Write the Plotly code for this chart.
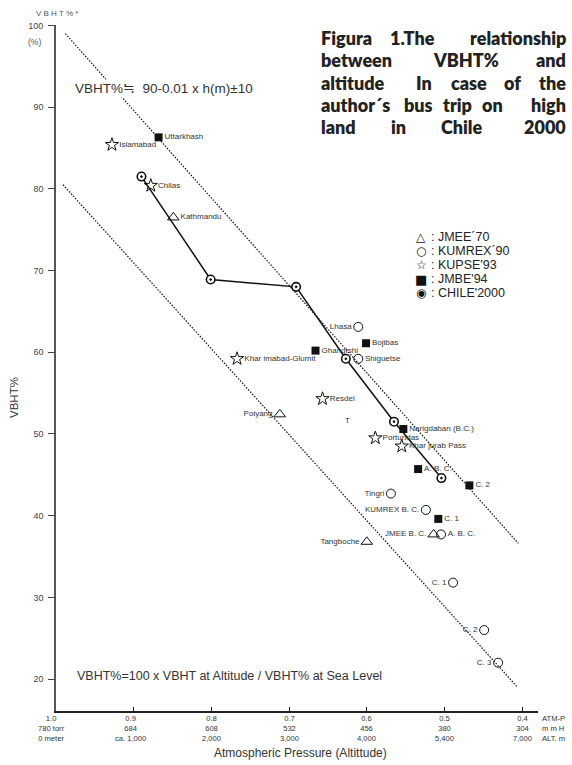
import plotly.graph_objects as go

# ---------------- data ----------------
jmee_x = [0.849, 0.712, 0.514, 0.600]
jmee_y = [76.5, 52.4, 37.7, 36.8]
jmee_lbl = ["Kathmandu", "Poiyang", "JMEE B. C.", "Tangboche"]
jmee_pos = ["middle right", "middle left", "middle left", "middle left"]

kumrex_x = [0.611, 0.611, 0.569, 0.524, 0.5045, 0.489, 0.449, 0.431]
kumrex_y = [63.1, 59.2, 42.7, 40.7, 37.7, 31.8, 26.0, 22.0]
kumrex_lbl = ["Lhasa", "Shiguetse", "Tingri", "KUMREX B. C.", "A. B. C.", "C. 1", "C. 2", "C. 3"]
kumrex_pos = ["middle left", "middle right", "middle left", "middle left",
              "middle right", "middle left", "middle left", "middle left"]

kupse_x = [0.928, 0.878, 0.767, 0.657, 0.589, 0.555]
kupse_y = [85.4, 80.4, 59.2, 54.3, 49.5, 48.5]
kupse_lbl = ["Islamabad", "Chilas", "Khar imabad-Glumit", "Resdel", "Portundas", "Khar jurab Pass"]

jmbe_x = [0.868, 0.666, 0.601, 0.553, 0.534, 0.508, 0.468]
jmbe_y = [86.3, 60.2, 61.1, 50.6, 45.7, 39.6, 43.7]
jmbe_lbl = ["Uttarkhash", "Ghangtshi", "Bojibas", "Narigdaban (B.C.)", "A. B. C.", "C. 1", "C. 2"]

chile_x = [0.890, 0.801, 0.691, 0.627, 0.565, 0.504]
chile_y = [81.5, 68.9, 68.0, 59.2, 51.5, 44.6]

upper_x = [0.988, 0.405]
upper_y = [99.0, 36.6]
lower_x = [0.991, 0.407]
lower_y = [80.5, 19.1]

t_mark_x = [0.625]
t_mark_y = [51.6]

press_ticks = [1.0, 0.9, 0.8, 0.7, 0.6, 0.5, 0.4]
press_lbl = ["1.0", "0.9", "0.8", "0.7", "0.6", "0.5", "0.4"]
torr_lbl = ["780 torr", "684", "608", "532", "456", "380", "304"]
alt_lbl = ["0 meter", "ca. 1,000", "2,000", "3,000", "4,000", "5,400", "7,000"]
unit_lbl = ["ATM-P", "m m H", "ALT. m"]
y_ticks = [20, 30, 40, 50, 60, 70, 80, 90, 100]

legend_glyphs = ["\u25b3", "\u25cb", "\u2606", "\u25a0", "\u25c9"]
legend_names = [": JMEE\u00b470", ": KUMREX\u00b490", ": KUPSE'93", ": JMBE'94", ": CHILE'2000"]

# ---------------- layout helpers ----------------
W, H = 572, 765
PL, PR, PT, PB = 56, 538, 25, 711


def pxx(px):
    return (px - PL) / (PR - PL)


def pxy(py):
    return (PB - py) / (PB - PT)


LBL = dict(family="Liberation Sans, Arial", size=8, color="#333")
DOTS = dict(color="#111", width=1.2, dash="1.5px,1.5px")

fig = go.Figure()

fig.add_trace(go.Scatter(x=upper_x, y=upper_y, mode="lines", line=DOTS,
                         showlegend=False, hoverinfo="skip"))
fig.add_trace(go.Scatter(x=lower_x, y=lower_y, mode="lines", line=DOTS,
                         showlegend=False, hoverinfo="skip"))
fig.add_trace(go.Scatter(x=chile_x, y=chile_y, mode="lines",
                         line=dict(color="#111", width=1.5),
                         showlegend=False, hoverinfo="skip"))

fig.add_trace(go.Scatter(x=jmee_x, y=jmee_y, mode="markers+text", name="JMEE\u00b470",
                         text=jmee_lbl, textposition=jmee_pos, textfont=LBL,
                         marker=dict(symbol="triangle-up-open", size=10, color="#111",
                                     line=dict(width=1))))
fig.add_trace(go.Scatter(x=kumrex_x, y=kumrex_y, mode="markers+text", name="KUMREX\u00b490",
                         text=kumrex_lbl, textposition=kumrex_pos, textfont=LBL,
                         marker=dict(symbol="circle-open", size=9, color="#111",
                                     line=dict(width=1))))
fig.add_trace(go.Scatter(x=kupse_x, y=kupse_y, mode="markers+text", name="KUPSE'93",
                         text=kupse_lbl, textposition="middle right", textfont=LBL,
                         marker=dict(symbol="star-open", size=10, color="#111",
                                     line=dict(width=1))))
fig.add_trace(go.Scatter(x=jmbe_x, y=jmbe_y, mode="markers+text", name="JMBE'94",
                         text=jmbe_lbl, textposition="middle right", textfont=LBL,
                         marker=dict(symbol="square", size=8, color="#111")))
fig.add_trace(go.Scatter(x=chile_x, y=chile_y, mode="markers", name="CHILE'2000",
                         marker=dict(symbol="circle-dot", size=8.5, color="white",
                                     line=dict(width=1.6, color="#111"))))

ann = []
# the stray "T"
ann.append(dict(x=t_mark_x[0], y=t_mark_y[0], xref="x", yref="y", text="T",
                xanchor="center", yanchor="middle", showarrow=False, font=LBL))

# formulas
ann.append(dict(x=pxx(73), y=pxy(88), xref="paper", yref="paper", xanchor="left",
                yanchor="middle", text="VBHT%\u2252  90-0.01 x h(m)\u00b110", showarrow=False,
                bgcolor="white",
                font=dict(family="Liberation Sans, Arial", size=13.5, color="#333")))
ann.append(dict(x=pxx(75), y=pxy(676), xref="paper", yref="paper", xanchor="left",
                yanchor="middle", text="VBHT%=100 x VBHT at Altitude / VBHT% at Sea Level",
                showarrow=False,
                font=dict(family="Liberation Sans, Arial", size=12.5, color="#333")))

# y axis extras
ann.append(dict(x=pxx(57), y=pxy(14), xref="paper", yref="paper", text="V B H T % *",
                xanchor="center", yanchor="middle", showarrow=False,
                font=dict(family="Liberation Sans, Arial", size=8, color="#555")))
ann.append(dict(x=pxx(34), y=pxy(42), xref="paper", yref="paper", text="(%)",
                xanchor="center", yanchor="middle", showarrow=False,
                font=dict(family="Liberation Sans, Arial", size=8.5, color="#555")))
ann.append(dict(x=pxx(14), y=pxy(398), xref="paper", yref="paper", text="VBHT%",
                xanchor="center", yanchor="middle", textangle=-90, showarrow=False,
                font=dict(family="Liberation Sans, Arial", size=11.5, color="#333")))
ann.append(dict(x=pxx(300), y=pxy(753), xref="paper", yref="paper",
                xanchor="center", yanchor="middle",
                text="Atmospheric Pressure (Altittude)", showarrow=False,
                font=dict(family="Liberation Sans, Arial", size=12, color="#333")))

# x tick label blocks (3 rows each)
TK = dict(family="Liberation Sans, Arial", size=7.6, color="#333")
shifts = [-5, -3, 0, 0, 0, 0, 0]
for i, p in enumerate(press_ticks):
    ann.append(dict(x=p, y=pxy(713), xref="x", yref="paper",
                    text="<br>".join([press_lbl[i], torr_lbl[i], alt_lbl[i]]),
                    showarrow=False, xshift=shifts[i], font=TK, align="center",
                    xanchor="center", yanchor="top", borderpad=0))
ann.append(dict(x=pxx(541), y=pxy(713), xref="paper", yref="paper",
                text="<br>".join(unit_lbl), align="left", borderpad=0,
                xanchor="left", yanchor="top", showarrow=False, font=TK))

# legend drawn as text rows (glyph + name)
LG = dict(family="Liberation Sans, Arial", size=12.5, color="#222")
for i, (g, nm) in enumerate(zip(legend_glyphs, legend_names)):
    ly = 237 + 14 * i
    ann.append(dict(x=pxx(421), y=pxy(ly), xref="paper", yref="paper", text=g,
                    xanchor="center", yanchor="middle", showarrow=False, borderpad=0,
                    font=dict(family="DejaVu Sans", size=12 if i != 3 else 13, color="#111")))
    ann.append(dict(x=pxx(430), y=pxy(ly), xref="paper", yref="paper", text=nm,
                    xanchor="left", yanchor="middle", showarrow=False, borderpad=0, font=LG))

# title, word by word to mimic justified text
TF = dict(family="Lato, Open Sans, sans-serif", size=18, color="#222", weight=800)
title_lines = [
    (38, [("Figura", "L", 320), ("1.The", "C", 412), ("relationship", "R", 567)]),
    (60.5, [("between", "L", 320), ("VBHT%", "C", 466), ("and", "R", 567)]),
    (82.5, [("altitude", "L", 320), ("In", "C", 424), ("case", "C", 469), ("of", "C", 512),
            ("the", "R", 567)]),
    (104.5, [("author\u00b4s", "L", 320), ("bus", "C", 418), ("trip", "C", 457), ("on", "C", 492),
             ("high", "R", 567)]),
    (126.5, [("land", "L", 320), ("in", "C", 398), ("Chile", "C", 462), ("2000", "R", 567)]),
]
anc = {"L": "left", "C": "center", "R": "right"}
for ly, words in title_lines:
    for w, a, xp in words:
        ann.append(dict(x=pxx(xp), y=pxy(ly), xref="paper", yref="paper", text=w,
                        xanchor=anc[a], yanchor="middle", showarrow=False, borderpad=0, font=TF))

fig.update_layout(
    width=W, height=H,
    margin=dict(l=PL, r=W - PR, t=PT, b=H - PB, pad=0),
    paper_bgcolor="white", plot_bgcolor="white",
    annotations=ann,
    showlegend=False,
    xaxis=dict(range=[1.0, 0.3797], tickvals=press_ticks, showticklabels=False,
               ticks="inside", ticklen=4, tickcolor="#222", showline=True,
               linecolor="#222", linewidth=1.5, showgrid=False, zeroline=False),
    yaxis=dict(range=[16.09, 100.05], tickvals=y_ticks, ticks="outside", ticklen=6,
               tickcolor="#444", showline=True, linecolor="#555", linewidth=1.6,
               showgrid=False, zeroline=False, ticklabelstandoff=3,
               tickfont=dict(family="Liberation Sans, Arial", size=9, color="#444")),
)

fig.write_html("out.html", config={"displayModeBar": False},
               post_script="document.body.style.margin='0';document.body.style.overflow='hidden';")
